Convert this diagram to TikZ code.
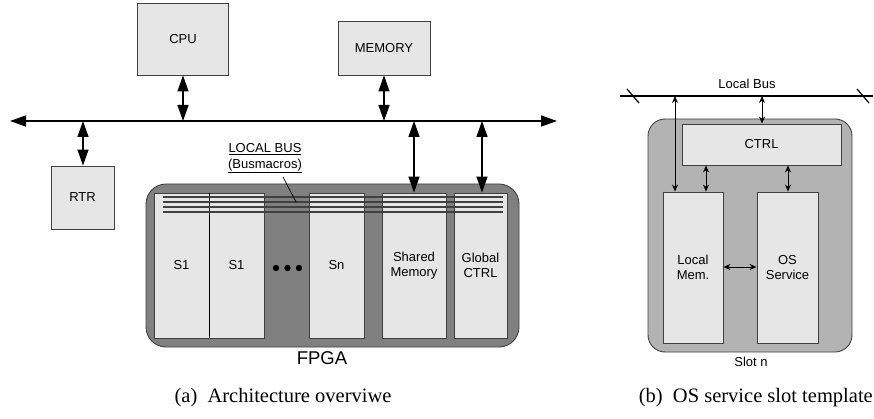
\documentclass[tikz,border=0pt]{standalone}
\usepackage{fontspec}
\setmainfont{Liberation Serif}
\setsansfont{Liberation Sans}
\usetikzlibrary{arrows.meta}

\definecolor{boxgray}{HTML}{E6E6E6}
\definecolor{fpgagray}{HTML}{808080}
\definecolor{slotgray}{HTML}{B3B3B3}
\definecolor{edgegray}{HTML}{404040}

\begin{document}
\begin{tikzpicture}[x=1pt, y=-1pt,
    box/.style={draw=edgegray, line width=0.9pt, fill=boxgray, inner sep=0pt, align=center,
                font=\sffamily\fontsize{13}{15}\selectfont},
    bigarrow/.style={line width=1.4pt, {Triangle[length=16pt,width=11pt]}-{Triangle[length=16pt,width=11pt]}},
    smallarrow/.style={line width=0.9pt, {Stealth[length=7pt,width=6pt]}-{Stealth[length=7pt,width=6pt]}},
    label/.style={font=\sffamily\fontsize{13}{15}\selectfont, inner sep=0pt},
    caption/.style={font=\fontsize{20.5}{24}\selectfont, inner sep=0pt}]
    \useasboundingbox (0,0) rectangle (874,419);

    % (a) architecture overview
    \node[box, minimum width=91, minimum height=72] (cpu) at (183,39) {CPU};
    \node[box, minimum width=92, minimum height=54] (mem) at (384,48) {MEMORY};
    \node[box, minimum width=63, minimum height=63] (rtr) at (82.5,197.5) {RTR};

    \coordinate (busL) at (10,121);
    \coordinate (busR) at (557,121);
    \draw[bigarrow] (busL) -- (busR);

    \node[draw=edgegray, line width=0.9pt, fill=fpgagray, rounded corners=20pt,
          minimum width=373, minimum height=163, inner sep=0pt] (fpga) at (332.5,265.5) {};
    \node[box, minimum width=55, minimum height=145] (s1a) at (181.5,265.5) {S1};
    \node[box, minimum width=55, minimum height=145] (s1b) at (236.5,265.5) {S1};
    \node[box, minimum width=55, minimum height=145] (sn) at (336.5,265.5) {Sn};
    \node[box, minimum width=64, minimum height=145] (shmem) at (414,265.5) {Shared\\Memory};
    \node[box, minimum width=53, minimum height=145] (gctrl) at (480.5,265.5) {Global\\CTRL};
    \draw[draw=black, line width=0.9pt] (s1a.north east) -- (s1a.south east);

    % bus macro lines
    \foreach \y in {197,202,207,212}
      \draw[edgegray, line width=1.3pt] (163,\y) -- (503,\y);
    \foreach \x in {276,287.5,299}
      \fill (\x,268) circle (3.2pt);

    \node[label] (lbus) at (265,149) {\underline{LOCAL BUS}};
    \node[label] (lbusm) at (265,166) {\underline{(Busmacros)}};
    \coordinate (lbustip) at (296,202);
    \draw[line width=0.7pt] (283,177) -- (lbustip);
    \node[font=\sffamily\fontsize{18.5}{20}\selectfont, inner sep=0pt] (fpgalbl) at (322,358) {FPGA};

    \draw[bigarrow] (cpu.south) -- (cpu.south |- busL);
    \draw[bigarrow] (mem.south) -- (mem.south |- busL);
    \draw[bigarrow] (rtr.north -| 83,0) -- (83,121);
    \draw[bigarrow] (shmem.north) -- (shmem.north |- busL);
    \draw[bigarrow] (gctrl.north -| 482,0) -- (482,121);

    % (b) OS service slot
    \coordinate (lbL) at (620,96);
    \coordinate (lbR) at (873,96);
    \draw[line width=1.2pt] (lbL) -- (lbR);
    \draw[line width=1.2pt] (627,89) -- (639,103);
    \draw[line width=1.2pt] (857,89) -- (869,103);
    \node[label] (lbtext) at (747,84) {Local Bus};

    \node[draw=edgegray, line width=0.9pt, fill=slotgray, rounded corners=17pt,
          minimum width=204, minimum height=233, inner sep=0pt] (slot) at (750,235.5) {};
    \node[box, minimum width=159, minimum height=41] (ctrl) at (761.5,144.5) {CTRL};
    \node[box, minimum width=60, minimum height=151] (lmem) at (693,267.5) {Local\\Mem.};
    \node[box, minimum width=61, minimum height=151] (ossrv) at (787.5,267.5) {OS\\Service};
    \node[label] (slotlbl) at (751,362) {Slot n};

    \draw[smallarrow] (675,96) -- (lmem.north -| 675,0);
    \draw[smallarrow] (762,96) -- (ctrl.north -| 762,0);
    \draw[smallarrow] (ctrl.south -| 706,0) -- (lmem.north -| 706,0);
    \draw[smallarrow] (ctrl.south -| 788,0) -- (ossrv.north -| 788,0);
    \draw[smallarrow] (lmem.east |- 0,267) -- (ossrv.west |- 0,267);

    % captions
    \node[caption] (capa) at (283,398) {(a)\enspace Architecture overviwe};
    \node[caption, anchor=east] (capb) at (873,398) {(b)\enspace OS service slot template};
\end{tikzpicture}
\end{document}
